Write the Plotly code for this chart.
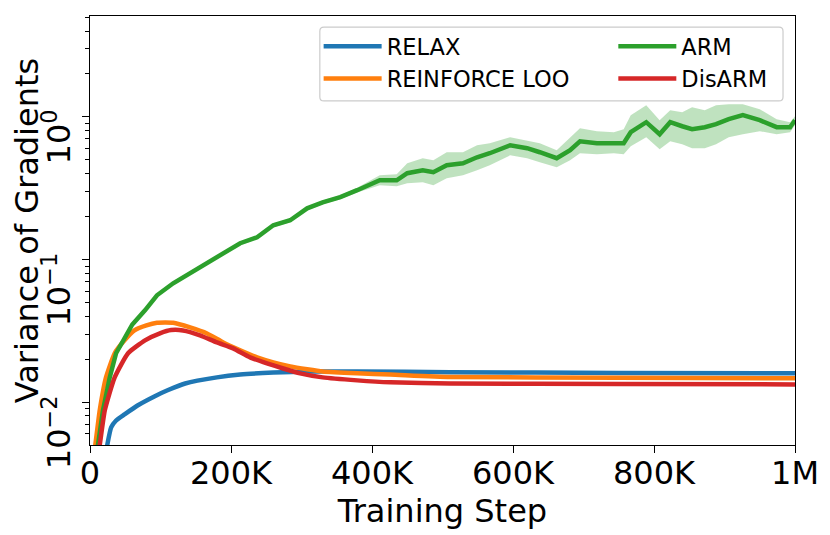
import plotly.graph_objects as go

# ---- data (x in training steps, y = variance of gradients) ----
relax_x = [22e3, 24.5e3, 30e3, 37e3, 49e3, 68e3, 92e3, 110e3, 135e3, 180e3, 213e3, 260e3, 308e3, 379e3, 511e3, 750e3, 1000e3]
relax_y = [0.0042, 0.0050, 0.00664, 0.00743, 0.0082, 0.0095, 0.0110, 0.0121, 0.0135, 0.0149, 0.0156, 0.0161, 0.0164, 0.0164, 0.0162, 0.0160, 0.0159]

loo_x = [5e3, 7.5e3, 13.8e3, 22.7e3, 35e3, 49e3, 63e3, 80e3, 95e3, 118e3, 142e3, 166e3, 189e3, 213e3, 237e3, 260e3, 284e3, 308e3, 330e3, 379e3, 426e3, 511e3, 750e3, 1000e3]
loo_y = [0.0042, 0.0050, 0.00875, 0.0149, 0.0220, 0.0271, 0.0318, 0.0345, 0.0360, 0.0360, 0.0334, 0.0303, 0.0262, 0.0231, 0.0206, 0.0190, 0.0178, 0.0170, 0.0164, 0.0159, 0.0156, 0.0150, 0.0148, 0.0147]

arm_x = [8e3, 11.3e3, 18.4e3, 28e3, 37e3, 47e3, 60e3, 78e3, 95e3, 118e3, 142e3, 166e3, 189e3, 213e3, 237e3, 260e3, 284e3, 308e3, 330e3, 355e3, 379e3,
         411e3, 435e3, 450e3, 472e3, 487e3, 506e3, 529e3, 549e3, 567e3, 596e3, 620e3, 638e3, 662e3, 681e3, 695e3, 719e3, 743e3, 757e3, 767e3,
         789e3, 808e3, 823e3, 840e3, 854e3, 872e3, 888e3, 906e3, 926e3, 950e3, 974e3, 993e3, 1000e3]
arm_y = [0.0042, 0.0050, 0.00875, 0.0149, 0.0220, 0.0271, 0.0350, 0.0440, 0.0561, 0.0681, 0.0800, 0.0942, 0.1107, 0.1300, 0.1432, 0.1738, 0.1884, 0.2286, 0.2518, 0.2735, 0.3062,
         0.3595, 0.3595, 0.403, 0.423, 0.409, 0.458, 0.473, 0.521, 0.556, 0.633, 0.603, 0.565, 0.513, 0.584, 0.675, 0.654, 0.654, 0.654, 0.781,
         0.918, 0.756, 0.918, 0.860, 0.820, 0.847, 0.889, 0.964, 1.028, 0.948, 0.847, 0.847, 0.948]
arm_hi = [0.0043, 0.0052, 0.0090, 0.0153, 0.0226, 0.0279, 0.0361, 0.0453, 0.0578, 0.0701, 0.0824, 0.0970, 0.1140, 0.1339, 0.1475, 0.1790, 0.1941, 0.2355, 0.2594, 0.2820, 0.3180,
          0.390, 0.396, 0.473, 0.513, 0.497, 0.565, 0.565, 0.633, 0.654, 0.720, 0.686, 0.654, 0.584, 0.720, 0.833, 0.794, 0.781, 0.820, 1.028,
          1.208, 0.948, 1.114, 1.079, 1.170, 1.114, 1.208, 1.228, 1.228, 1.132, 0.964, 0.918, 1.011]
arm_lo = [0.0041, 0.0048, 0.0085, 0.0145, 0.0214, 0.0263, 0.0340, 0.0427, 0.0544, 0.0661, 0.0776, 0.0914, 0.1074, 0.1261, 0.1389, 0.1686, 0.1827, 0.2217, 0.2442, 0.2650, 0.2950,
          0.3317, 0.3264, 0.3425, 0.348, 0.3317, 0.371, 0.390, 0.423, 0.458, 0.538, 0.513, 0.481, 0.444, 0.497, 0.556, 0.547, 0.556, 0.547, 0.623,
          0.720, 0.593, 0.675, 0.643, 0.603, 0.603, 0.643, 0.720, 0.756, 0.794, 0.756, 0.781, 0.874]

disarm_x = [11e3, 13.8e3, 21e3, 35e3, 54e3, 78e3, 100e3, 115e3, 132e3, 156e3, 180e3, 203e3, 227e3, 251e3, 274e3, 298e3, 330e3, 379e3, 426e3, 511e3, 750e3, 1000e3]
disarm_y = [0.0042, 0.0050, 0.00875, 0.0149, 0.0220, 0.0271, 0.0305, 0.0320, 0.0318, 0.0294, 0.0262, 0.0238, 0.0206, 0.0187, 0.0172, 0.0159, 0.0149, 0.0142, 0.01375, 0.0135, 0.0134, 0.0133]

x_tickvals = [0, 200e3, 400e3, 600e3, 800e3, 1000e3]
x_ticktext = ["0", "200K", "400K", "600K", "800K", "1M"]
y_tickvals = [0.01, 0.1, 1]
y_ticktext = ["10<sup>−2</sup>", "10<sup>−1</sup>", "\u00a0\u00a010<sup>0</sup>"]
y_minor = [0.006, 0.007, 0.008, 0.009, 0.02, 0.03, 0.04, 0.05, 0.06, 0.07, 0.08, 0.09,
           0.2, 0.3, 0.4, 0.5, 0.6, 0.7, 0.8, 0.9, 2, 3, 4, 5]

BLUE, ORANGE, GREEN, RED = "#1f77b4", "#ff7f0e", "#2ca02c", "#d62728"
FONT = "DejaVu Sans"
LW = 4.5

fig = go.Figure()
fig.add_trace(go.Scatter(x=relax_x, y=relax_y, mode="lines", name="RELAX",
                         line=dict(color=BLUE, width=LW, shape="spline", smoothing=0.5),
                         legend="legend", legendgroup="a"))
fig.add_trace(go.Scatter(x=loo_x, y=loo_y, mode="lines", name="REINFORCE LOO",
                         line=dict(color=ORANGE, width=LW, shape="spline", smoothing=0.5),
                         legend="legend", legendgroup="b"))
fig.add_trace(go.Scatter(x=arm_x, y=arm_lo, mode="lines", line=dict(width=0, color=GREEN),
                         showlegend=False, hoverinfo="skip"))
fig.add_trace(go.Scatter(x=arm_x, y=arm_hi, mode="lines", line=dict(width=0, color=GREEN),
                         fill="tonexty", fillcolor="rgba(44,160,44,0.3)", showlegend=False, hoverinfo="skip"))
fig.add_trace(go.Scatter(x=arm_x, y=arm_y, mode="lines", name="ARM",
                         line=dict(color=GREEN, width=LW),
                         legend="legend2", legendgroup="c"))
fig.add_trace(go.Scatter(x=disarm_x, y=disarm_y, mode="lines", name="DisARM",
                         line=dict(color=RED, width=LW, shape="spline", smoothing=0.5),
                         legend="legend2", legendgroup="d"))

# legend frame (matplotlib style rounded box)
x0, x1, y0, y1 = 0.326, 0.983, 0.802, 0.974
rx, ry = 0.0057, 0.0093
path = (f"M{x0+rx},{y0} L{x1-rx},{y0} Q{x1},{y0} {x1},{y0+ry} L{x1},{y1-ry} Q{x1},{y1} {x1-rx},{y1} "
        f"L{x0+rx},{y1} Q{x0},{y1} {x0},{y1-ry} L{x0},{y0+ry} Q{x0},{y0} {x0+rx},{y0} Z")
fig.add_shape(type="path", path=path, xref="paper", yref="paper", layer="above",
              line=dict(color="#cccccc", width=1.2), fillcolor="rgba(255,255,255,0.8)")

leg_common = dict(font=dict(family=FONT, size=22.5, color="black"), bgcolor="rgba(0,0,0,0)",
                  borderwidth=0, tracegroupgap=0, itemwidth=58, xanchor="left", yanchor="top", orientation="v")
fig.update_layout(
    width=822, height=527,
    margin=dict(l=82, r=35, t=8, b=90),
    paper_bgcolor="white", plot_bgcolor="white",
    font=dict(family=FONT, size=32, color="black"),
    showlegend=True,
    legend=dict(x=0.3243, y=0.979, **leg_common),
    legend2=dict(x=0.7423, y=0.979, **leg_common),
    xaxis=dict(range=[0, 1e6], tickmode="array", tickvals=x_tickvals, ticktext=x_ticktext,
               ticks="outside", ticklen=7, tickwidth=1.3, tickcolor="black",
               showline=True, linecolor="black", linewidth=1.3, mirror=True,
               showgrid=False, zeroline=False, automargin=False,
               ticklabelstandoff=-8,
               tickfont=dict(family=FONT, size=32),
               title=dict(text="Training Step", font=dict(family=FONT, size=32), standoff=0)),
    yaxis=dict(type="log", range=[-2.301, 0.7076], tickmode="array", tickvals=y_tickvals, ticktext=y_ticktext,
               ticks="outside", ticklen=7, tickwidth=1.3, tickcolor="black", tickangle=-90,
               ticklabelshift=35, ticklabelstandoff=-1,
               showline=True, linecolor="black", linewidth=1.3, mirror=True,
               showgrid=False, zeroline=False, automargin=False,
               minor=dict(tickmode="array", tickvals=y_minor, ticks="outside", ticklen=4,
                          tickwidth=1, tickcolor="black", showgrid=False),
               tickfont=dict(family=FONT, size=32),
               title=dict(text="Variance of Gradients", font=dict(family=FONT, size=32), standoff=0)),
)

fig.write_html("out.html")
